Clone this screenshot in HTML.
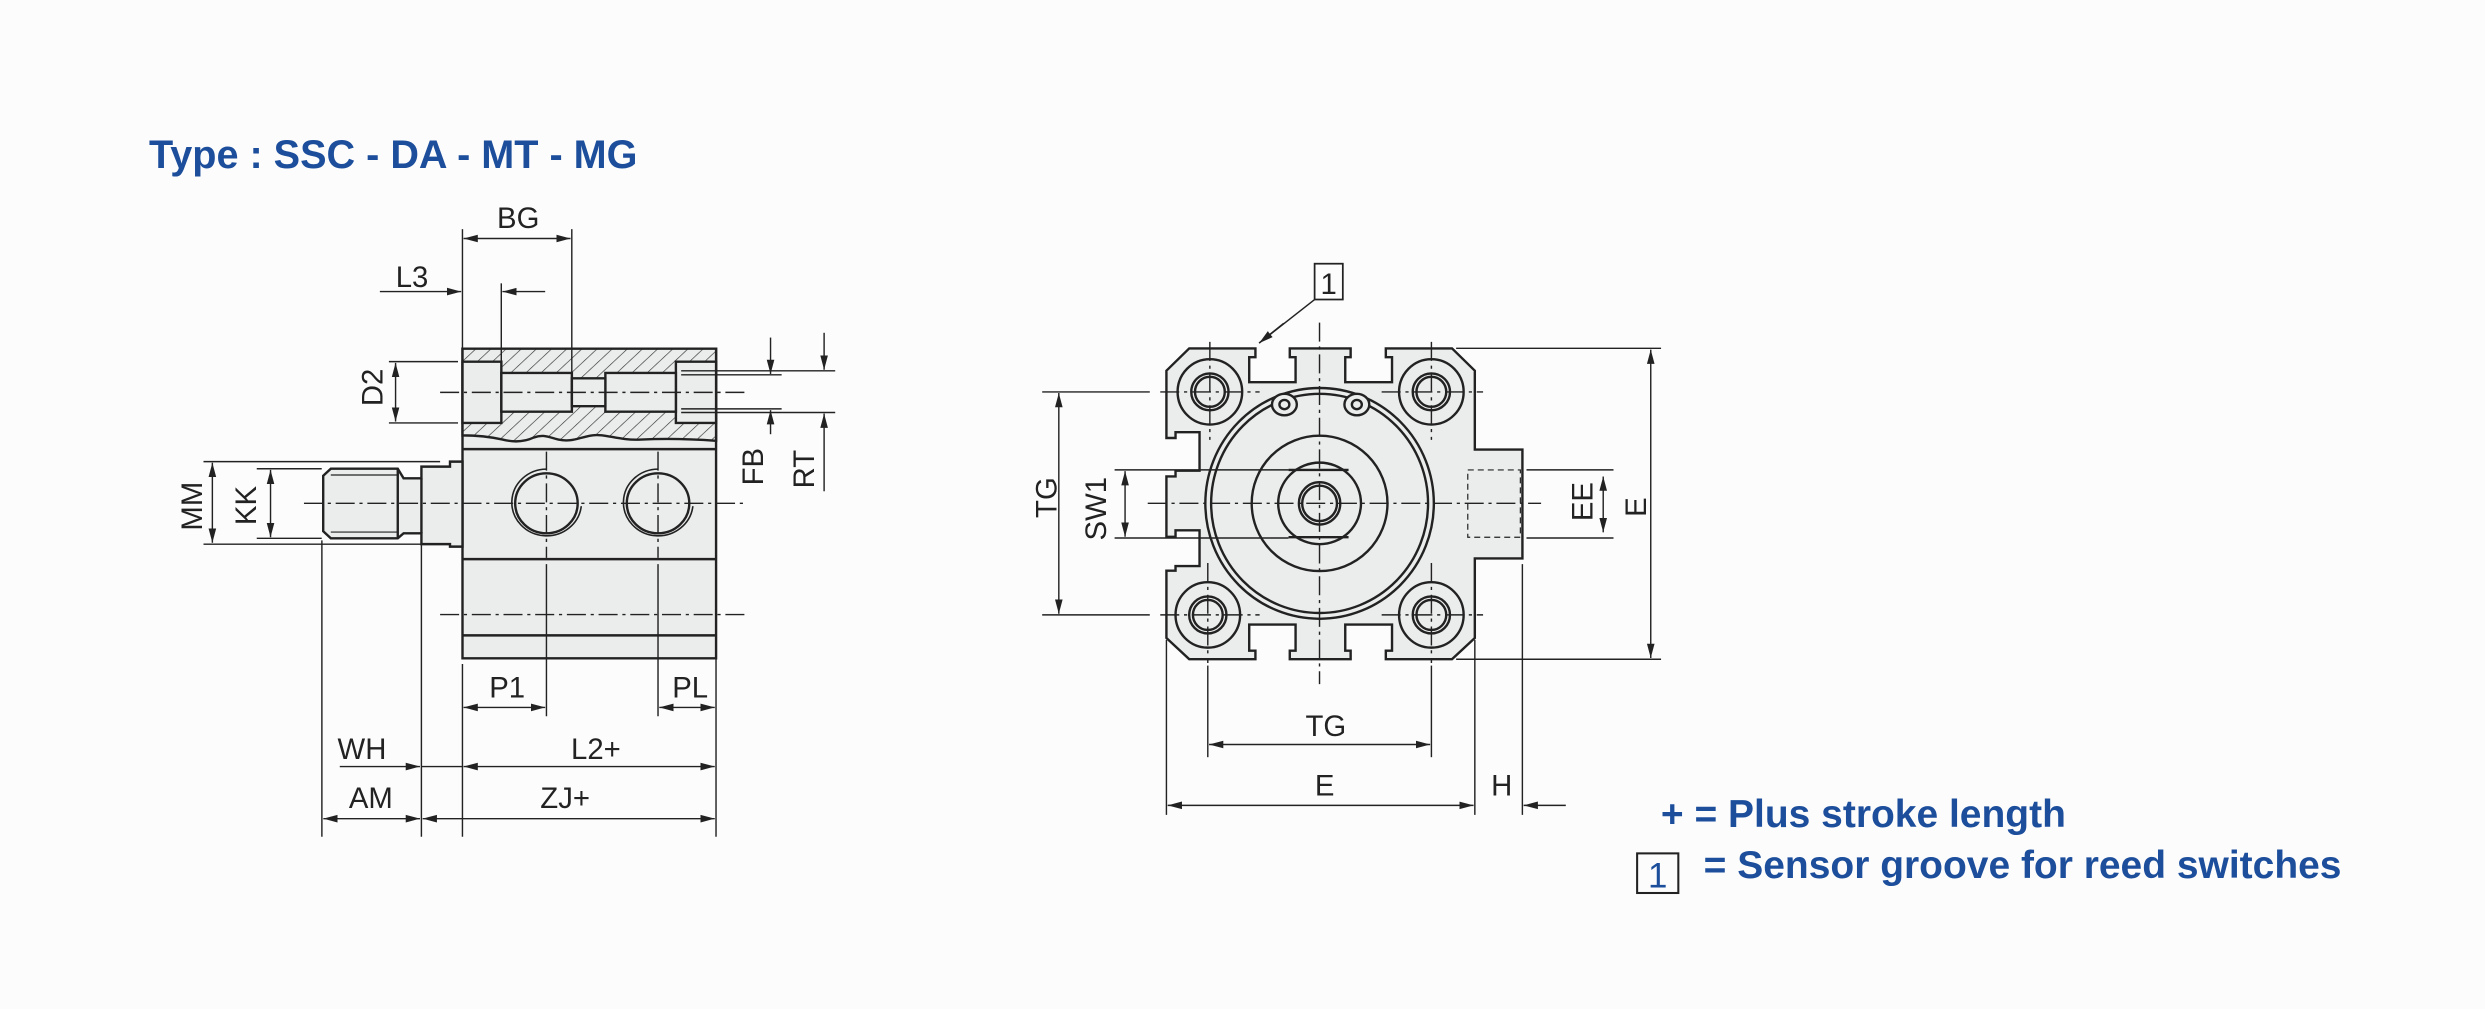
<!DOCTYPE html>
<html><head><meta charset="utf-8"><style>
html,body{margin:0;padding:0;background:#fcfcfc;}
svg{display:block}
.t *{vector-effect:non-scaling-stroke}
text{font-family:"Liberation Sans",sans-serif;fill:#222}
</style></head><body>
<svg width="2485" height="1009" viewBox="0 0 1568 636.7" preserveAspectRatio="none" xmlns="http://www.w3.org/2000/svg">
<defs>
<marker id="a" markerUnits="userSpaceOnUse" markerWidth="10" markerHeight="6" refX="9" refY="3" orient="auto-start-reverse"><path d="M0,0.6 L9,3 L0,5.4 Z" fill="#222"/></marker>
<pattern id="h" patternUnits="userSpaceOnUse" width="24" height="24" patternTransform="rotate(45)"><rect width="24" height="24" fill="#ebecec"/><line x1="0" y1="0" x2="0" y2="24" stroke="#333" stroke-width="3"/></pattern>
</defs>
<rect width="1568" height="637" fill="#fcfcfc"/>
<text x="94" y="106" font-size="25" font-weight="bold" style="fill:#1c4e9c">Type : SSC - DA - MT - MG</text>

<!-- LEFT VIEW -->
<g class="t" transform="translate(94.64,126.2) scale(0.2817,0.2629)" stroke="#222" stroke-width="2.4" fill="#ebecec">
<rect x="700" y="357" width="568" height="743"/>
<path d="M700,357 H1268 V578 C1230,575 1160,572 1100,575 C1050,578 1020,560 990,565 C960,570 945,582 915,575 C890,568 880,562 860,570 C840,580 815,582 790,575 C760,568 730,565 700,565 Z" fill="url(#h)"/>
<rect x="700" y="388" width="87" height="147"/>
<rect x="1178" y="388" width="90" height="147"/>
<rect x="787" y="415" width="158" height="93"/>
<rect x="1020" y="415" width="158" height="93"/>
<rect x="945" y="428" width="75" height="67"/>
<line x1="700" y1="598" x2="1268" y2="598"/>
<line x1="700" y1="862" x2="1268" y2="862"/>
<line x1="700" y1="1045" x2="1268" y2="1045"/>
<ellipse cx="888" cy="728" rx="70" ry="72"/>
<ellipse cx="1138" cy="728" rx="70" ry="72"/>
<path d="M888,646 A78,80 0 1 0 966,735" fill="none" stroke-width="1.6"/>
<path d="M1138,646 A78,80 0 1 0 1216,735" fill="none" stroke-width="1.6"/>
<path d="M405,645 L555,645 L568,668 L608,668 L608,640 L672,640 L672,628 L700,628 L700,832 L672,832 L672,826 L608,826 L608,800 L568,800 L555,812 L405,812 L388,795 L388,662 Z"/>
<line x1="405" y1="660" x2="555" y2="660" stroke-width="1.2"/>
<line x1="405" y1="797" x2="555" y2="797" stroke-width="1.2"/>
<line x1="555" y1="645" x2="555" y2="812"/>
<line x1="608" y1="668" x2="608" y2="800"/>
</g>
<g stroke="#222" stroke-width="0.9" fill="none">
<g stroke-dasharray="12,3,2,3">
<line x1="191.8" y1="317.6" x2="470.7" y2="317.6"/>
<line x1="277.7" y1="387.8" x2="470.7" y2="387.8"/>
<line x1="277.7" y1="247.6" x2="470.7" y2="247.6"/>
<line x1="344.8" y1="285" x2="344.8" y2="352"/>
<line x1="415.2" y1="285" x2="415.2" y2="352"/>
</g>
<line x1="344.8" y1="356" x2="344.8" y2="452"/>
<line x1="415.2" y1="356" x2="415.2" y2="452"/>
<line x1="291.8" y1="144.6" x2="291.8" y2="220"/>
<line x1="360.8" y1="144.6" x2="360.8" y2="235"/>
<line x1="316.3" y1="178.8" x2="316.3" y2="228"/>
<line x1="245.4" y1="228.2" x2="289" y2="228.2"/>
<line x1="245.4" y1="266.9" x2="289" y2="266.9"/>
<line x1="128.4" y1="291.3" x2="277.7" y2="291.3"/>
<line x1="128.4" y1="343.4" x2="283" y2="343.4"/>
<line x1="162" y1="295.8" x2="203" y2="295.8"/>
<line x1="162" y1="339.7" x2="203" y2="339.7"/>
<line x1="429.8" y1="236.5" x2="493.2" y2="236.5"/>
<line x1="429.8" y1="258" x2="493.2" y2="258"/>
<line x1="429.8" y1="234" x2="527" y2="234"/>
<line x1="429.8" y1="260.3" x2="527" y2="260.3"/>
<line x1="291.8" y1="419" x2="291.8" y2="528"/>
<line x1="451.8" y1="415" x2="451.8" y2="528"/>
<line x1="203.1" y1="341" x2="203.1" y2="528"/>
<line x1="265.9" y1="344" x2="265.9" y2="528"/>
<line x1="265.9" y1="483.7" x2="291.8" y2="483.7"/>
<g marker-end="url(#a)" marker-start="url(#a)">
<line x1="292.5" y1="150.5" x2="360" y2="150.5"/>
<line x1="249.6" y1="229" x2="249.6" y2="266"/>
<line x1="134" y1="292" x2="134" y2="342.5"/>
<line x1="170.7" y1="296.5" x2="170.7" y2="339"/>
<line x1="292.5" y1="446.4" x2="344" y2="446.4"/>
<line x1="416" y1="446.4" x2="451" y2="446.4"/>
<line x1="292.5" y1="483.7" x2="451" y2="483.7"/>
<line x1="204" y1="516.6" x2="265" y2="516.6"/>
<line x1="266.7" y1="516.6" x2="451" y2="516.6"/>
</g>
<g marker-end="url(#a)">
<line x1="239.7" y1="184" x2="291" y2="184"/>
<line x1="344" y1="184" x2="317" y2="184"/>
<line x1="486.2" y1="213" x2="486.2" y2="236"/>
<line x1="486.2" y1="274" x2="486.2" y2="258.8"/>
<line x1="520" y1="210" x2="520" y2="233.3"/>
<line x1="520" y1="310" x2="520" y2="261"/>
<line x1="214.4" y1="483.7" x2="265" y2="483.7"/>
</g>
</g>
<g font-size="18.5" text-anchor="middle">
<text x="327" y="144">BG</text>
<text x="260" y="181">L3</text>
<text transform="translate(241.5,244.5) rotate(-90)">D2</text>
<text transform="translate(127.5,319.4) rotate(-90)">MM</text>
<text transform="translate(161.5,319) rotate(-90)">KK</text>
<text transform="translate(481.5,294.5) rotate(-90)">FB</text>
<text transform="translate(513.5,296) rotate(-90)">RT</text>
<text x="320" y="440">P1</text>
<text x="435.5" y="440">PL</text>
<text x="228.4" y="479">WH</text>
<text x="376" y="479">L2+</text>
<text x="234" y="510">AM</text>
<text x="356.6" y="510">ZJ+</text>
</g>

<!-- RIGHT VIEW -->
<g class="t" transform="translate(649.8,151.4) scale(0.2612,0.2427)" stroke="#222" stroke-width="2.4" fill="#ebecec">
<path d="M385,282 H545 V305 H530 V370 H642 V305 H628 V282 H775 V305 H762 V370 H875 V305 H860 V282 H1020 L1075,340 V545 H1190 V828 H1075 V1035 L1020,1090 H860 V1068 H875 V1000 H762 V1068 H775 V1090 H628 V1068 H642 V1000 H530 V1068 H545 V1090 H385 L330,1035 V860 H352 V848 H410 V755 H352 V772 H330 V615 H352 V600 H410 V500 H352 V515 H330 V340 Z"/>
<rect x="1058" y="598" width="127" height="175" fill="none" stroke-dasharray="6,4" stroke-width="1.2"/>
<ellipse cx="700" cy="685" rx="276" ry="300"/>
<ellipse cx="700" cy="685" rx="262" ry="285" fill="none"/>
<ellipse cx="700" cy="685" rx="164" ry="176"/>
<ellipse cx="700" cy="685" rx="100" ry="106"/>
<line x1="625" y1="598" x2="770" y2="598"/>
<line x1="625" y1="773" x2="770" y2="773"/>
<ellipse cx="700" cy="685" rx="50" ry="55"/>
<ellipse cx="700" cy="685" rx="42" ry="46" fill="none"/>
<ellipse cx="615" cy="428" rx="30" ry="28"/>
<ellipse cx="615" cy="428" rx="12" ry="12" fill="none"/>
<ellipse cx="790" cy="428" rx="30" ry="28"/>
<ellipse cx="790" cy="428" rx="12" ry="12" fill="none"/>
<g>
<ellipse cx="435" cy="395" rx="78" ry="85"/><ellipse cx="435" cy="395" rx="45" ry="48"/><ellipse cx="435" cy="395" rx="36" ry="39" fill="none"/>
<ellipse cx="970" cy="395" rx="78" ry="85"/><ellipse cx="970" cy="395" rx="45" ry="48"/><ellipse cx="970" cy="395" rx="36" ry="39" fill="none"/>
<ellipse cx="430" cy="975" rx="78" ry="85"/><ellipse cx="430" cy="975" rx="45" ry="48"/><ellipse cx="430" cy="975" rx="36" ry="39" fill="none"/>
<ellipse cx="970" cy="975" rx="78" ry="85"/><ellipse cx="970" cy="975" rx="45" ry="48"/><ellipse cx="970" cy="975" rx="36" ry="39" fill="none"/>
</g>
</g>
<g stroke="#222" stroke-width="0.9" fill="none">
<g stroke-dasharray="12,3,2,3">
<line x1="832.6" y1="203.6" x2="832.6" y2="431.7"/>
<line x1="724.2" y1="317.6" x2="972.4" y2="317.6"/>
<line x1="732.1" y1="247.3" x2="794.8" y2="247.3"/>
<line x1="871.8" y1="247.3" x2="935.8" y2="247.3"/>
<line x1="732.1" y1="388" x2="794.8" y2="388"/>
<line x1="871.8" y1="388" x2="935.8" y2="388"/>
<line x1="763.4" y1="215.7" x2="763.4" y2="277.6"/>
<line x1="903.2" y1="215.7" x2="903.2" y2="277.6"/>
<line x1="762.1" y1="355.3" x2="762.1" y2="418.4"/>
<line x1="903.2" y1="355.3" x2="903.2" y2="418.4"/>
</g>
<line x1="657.6" y1="247.3" x2="725.5" y2="247.3"/>
<line x1="657.6" y1="388" x2="725.5" y2="388"/>
<line x1="703.3" y1="296.5" x2="813" y2="296.5"/>
<line x1="703.3" y1="339.5" x2="813" y2="339.5"/>
<line x1="963.2" y1="296.5" x2="1018.1" y2="296.5"/>
<line x1="963.2" y1="339.5" x2="1018.1" y2="339.5"/>
<line x1="918.8" y1="219.8" x2="1048.1" y2="219.8"/>
<line x1="918.8" y1="416" x2="1048.1" y2="416"/>
<line x1="736" y1="403.8" x2="736" y2="514.2"/>
<line x1="930.6" y1="403.8" x2="930.6" y2="514.2"/>
<line x1="960.6" y1="356" x2="960.6" y2="514.2"/>
<line x1="762.1" y1="420" x2="762.1" y2="477.8"/>
<line x1="903.2" y1="420" x2="903.2" y2="477.8"/>
<line x1="829.5" y1="189" x2="794.5" y2="216.5"/>
<g marker-end="url(#a)" marker-start="url(#a)">
<line x1="668.1" y1="248" x2="668.1" y2="387.3"/>
<line x1="709.9" y1="297.3" x2="709.9" y2="338.7"/>
<line x1="1011.6" y1="300.7" x2="1011.6" y2="335.9"/>
<line x1="1041.6" y1="220.6" x2="1041.6" y2="415.2"/>
<line x1="762.9" y1="469.8" x2="902.4" y2="469.8"/>
<line x1="736.8" y1="508.2" x2="929.8" y2="508.2"/>
</g>
<g marker-end="url(#a)">
<line x1="988" y1="508.2" x2="961.4" y2="508.2"/>
<line x1="810" y1="204" x2="794.5" y2="216.5"/>
</g>
</g>
<rect x="829.5" y="166.4" width="17.8" height="22.6" fill="none" stroke="#222" stroke-width="1.1"/>
<g font-size="18.5" text-anchor="middle">
<text x="838.4" y="185.5">1</text>
<text transform="translate(666.5,314) rotate(-90)">TG</text>
<text transform="translate(697.8,321) rotate(-90)">SW1</text>
<text transform="translate(1004.7,316.5) rotate(-90)">EE</text>
<text transform="translate(1038.7,320) rotate(-90)">E</text>
<text x="836.6" y="464.5">TG</text>
<text x="835.8" y="502">E</text>
<text x="947.6" y="502">H</text>
</g>

<g font-size="24.6" font-weight="bold">
<text x="1048" y="522" style="fill:#1c4e9c">+ = Plus stroke length</text>
<text x="1075" y="554" style="fill:#1c4e9c">= Sensor groove for reed switches</text>
</g>
<rect x="1033" y="538.5" width="26" height="25" fill="none" stroke="#222" stroke-width="1.3"/>
<text x="1046" y="560" font-size="22" text-anchor="middle" style="fill:#1c4e9c">1</text>
</svg>
</body></html>
